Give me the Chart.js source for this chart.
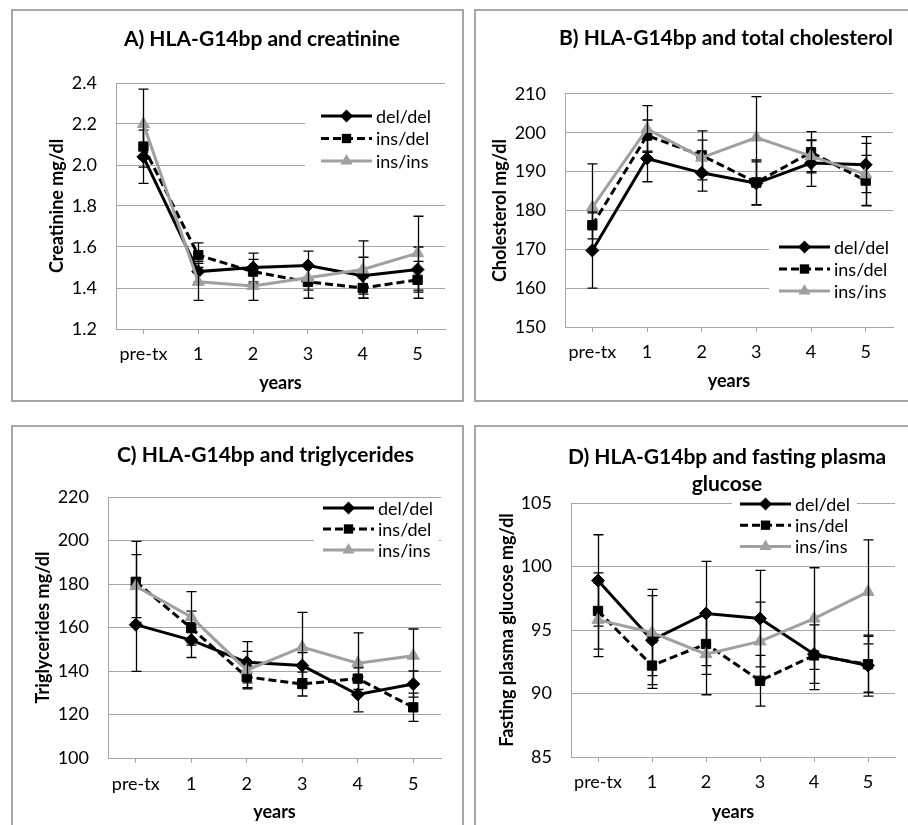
<!DOCTYPE html>
<html>
<head>
<meta charset="utf-8">
<title>HLA-G14bp panels</title>
<script src="https://cdn.jsdelivr.net/npm/chart.js@4.4.1/dist/chart.umd.min.js"></script>
<style>
  html, body { margin: 0; padding: 0; background: #fff; }
  body { width: 908px; height: 825px; position: relative; overflow: hidden; }
  .panel { position: absolute; box-sizing: border-box; border: 2px solid #a6a6a6; background: #fff; overflow: hidden; }
  .panel canvas { position: absolute; left: 0; top: 0; }
</style>
</head>
<body>
<div class="panel" style="left:11px;top:9px;width:453px;height:393px"><canvas id="chartA" width="449" height="389" style="width:449px;height:389px"></canvas></div>
<div class="panel" style="left:474px;top:9px;width:440px;height:393px"><canvas id="chartB" width="432" height="389" style="width:432px;height:389px"></canvas></div>
<div class="panel" style="left:11px;top:425px;width:453px;height:410px"><canvas id="chartC" width="449" height="398" style="width:449px;height:398px"></canvas></div>
<div class="panel" style="left:474px;top:425px;width:440px;height:410px"><canvas id="chartD" width="432" height="398" style="width:432px;height:398px"></canvas></div>
<script>
// categories and groups
const years = ['pre-tx', '1', '2', '3', '4', '5'];
const groups = ['del/del', 'ins/del', 'ins/ins'];

// A) creatinine (mg/dl) and error bar half-widths
const creatinineDelDel = [2.04, 1.48, 1.50, 1.51, 1.46, 1.49];
const creatinineInsDel = [2.09, 1.56, 1.48, 1.43, 1.40, 1.44];
const creatinineInsIns = [2.20, 1.43, 1.41, 1.45, 1.49, 1.57];
const creatinineErrDelDel = [0.13, 0.05, 0.07, 0.07, 0.09, 0.11];
const creatinineErrInsDel = [0.10, 0.06, 0.06, 0.08, 0.05, 0.09];
const creatinineErrInsIns = [0.17, 0.09, 0.07, 0.06, 0.14, 0.18];
const creatinineTicks = [1.2, 1.4, 1.6, 1.8, 2.0, 2.2, 2.4];

// B) total cholesterol (mg/dl)
const cholesterolDelDel = [169.7, 193.4, 189.7, 187.0, 192.2, 191.8];
const cholesterolInsDel = [176.2, 199.3, 194.2, 187.2, 195.0, 187.7];
const cholesterolInsIns = [180.8, 201.0, 193.6, 198.8, 194.0, 189.3];
const cholesterolErrDelDel = [9.7, 6.0, 4.7, 5.5, 6.0, 7.2];
const cholesterolErrInsDel = [3.5, 4.0, 6.3, 5.8, 5.3, 6.5];
const cholesterolErrInsIns = [11.2, 6.0, 4.5, 10.5, 4.0, 8.0];
const cholesterolTicks = [150, 160, 170, 180, 190, 200, 210];

// C) triglycerides (mg/dl)
const triglyceridesDelDel = [161.3, 154.2, 144.0, 142.5, 129.2, 134.0];
const triglyceridesInsDel = [181.0, 159.7, 137.3, 134.0, 136.5, 123.3];
const triglyceridesInsIns = [179.0, 164.8, 140.4, 151.0, 143.6, 147.0];
const triglyceridesErrDelDel = [21.5, 8.0, 9.5, 6.0, 8.0, 6.0];
const triglyceridesErrInsDel = [18.6, 7.8, 5.0, 5.5, 5.0, 6.5];
const triglyceridesErrInsIns = [14.5, 11.7, 8.6, 16.0, 13.9, 12.3];
const triglyceridesTicks = [100, 120, 140, 160, 180, 200, 220];

// D) fasting plasma glucose (mg/dl)
const glucoseDelDel = [98.9, 94.2, 96.3, 95.9, 93.1, 92.2];
const glucoseInsDel = [96.5, 92.2, 93.9, 91.0, 93.0, 92.3];
const glucoseInsIns = [95.8, 94.8, 93.1, 94.1, 95.9, 98.0];
const glucoseErrDelDel = [3.6, 3.5, 4.1, 3.8, 2.3, 2.4];
const glucoseErrInsDel = [3.0, 1.8, 2.4, 2.0, 2.7, 2.2];
const glucoseErrInsIns = [2.9, 3.4, 3.2, 3.1, 4.0, 4.1];
const glucoseTicks = [85, 90, 95, 100, 105];

const GRID = '#a6a6a6';
const GREY = '#a0a0a0';
const FONT = 'Lato';
const TXT = 18;     // tick, legend and axis title size
const TITLE = 21;   // panel title size

Chart.defaults.font.family = FONT;
Chart.defaults.color = '#000';

// whiskers for every point, drawn with its own series
const errorBars = {
  id: 'errorBars',
  afterDatasetDraw(chart, args) {
    const ds = chart.data.datasets[args.index];
    if (!ds.errors) return;
    const y = chart.scales.y;
    const ctx = chart.ctx;
    ctx.save();
    ctx.strokeStyle = '#000';
    ctx.lineWidth = 1.3;
    ctx.setLineDash([]);
    args.meta.data.forEach((pt, i) => {
      const v = ds.data[i], e = ds.errors[i];
      const top = y.getPixelForValue(v + e), bot = y.getPixelForValue(v - e);
      const x = Math.round(pt.x) + 0.5;
      ctx.beginPath();
      ctx.moveTo(x, top); ctx.lineTo(x, bot);
      ctx.moveTo(x - 5, top); ctx.lineTo(x + 5, top);
      ctx.moveTo(x - 5, bot); ctx.lineTo(x + 5, bot);
      ctx.stroke();
    });
    ctx.restore();
  }
};

// the title in the original is not centred on the panel, move its box
const titleShift = {
  id: 'titleShift',
  afterLayout(chart, args, opts) {
    const tb = chart.titleBlock;
    if (!tb || opts.x == null) return;
    const half = (tb.right - tb.left) / 2;
    tb.left = opts.x - half;
    tb.right = opts.x + half;
  }
};

function marker(ctx, style, x, y, r) {
  ctx.beginPath();
  if (style === 'rectRot') {
    ctx.moveTo(x, y - r); ctx.lineTo(x + r, y); ctx.lineTo(x, y + r); ctx.lineTo(x - r, y);
  } else if (style === 'rect') {
    const s = r * Math.SQRT1_2;
    ctx.rect(x - s, y - s, 2 * s, 2 * s);
  } else {
    ctx.moveTo(x, y - r);
    ctx.lineTo(x + r * Math.sin(Math.PI * 2 / 3), y - r * Math.cos(Math.PI * 2 / 3));
    ctx.lineTo(x + r * Math.sin(Math.PI * 4 / 3), y - r * Math.cos(Math.PI * 4 / 3));
  }
  ctx.closePath();
  ctx.fill();
}

// Excel-like legend sitting inside the plot on a white box
const boxLegend = {
  id: 'boxLegend',
  afterDraw(chart, args, opts) {
    const a = chart.chartArea, ctx = chart.ctx;
    ctx.save();
    ctx.fillStyle = '#fff';
    ctx.fillRect(a.left + opts.box[0], a.top + opts.box[1], opts.box[2], opts.box[3]);
    chart.data.datasets.forEach((ds, i) => {
      const x = a.left + opts.x, y = a.top + opts.y + i * opts.rowH;
      ctx.strokeStyle = ds.borderColor;
      ctx.lineWidth = ds.borderWidth;
      ctx.setLineDash(ds.borderDash || []);
      ctx.beginPath(); ctx.moveTo(x, y); ctx.lineTo(x + 51, y); ctx.stroke();
      ctx.setLineDash([]);
      ctx.fillStyle = ds.pointBackgroundColor;
      marker(ctx, ds.pointStyle, x + 25.5, y, ds.pointRadius);
      ctx.fillStyle = '#000';
      ctx.font = TXT + 'px ' + FONT;
      ctx.textBaseline = 'middle';
      ctx.textAlign = 'left';
      ctx.fillText(ds.label, x + 55, y + 1);
    });
    ctx.restore();
  }
};

function buildPanel(canvasId, p) {
  const canvas = document.getElementById(canvasId);
  const W = canvas.width, H = canvas.height;
  const titleLh = TITLE * p.titleLine;
  const nLines = Array.isArray(p.title) ? p.title.length : 1;
  const padR = W - p.R;
  const xHeight = H - p.B;
  const lh = TXT * 1.2;
  const styles = [
    { color: '#000', style: 'rectRot', r: 6.5, dash: [] },
    { color: '#000', style: 'rect', r: 6.6, dash: [8, 4] },
    { color: GREY, style: 'triangle', r: 7, dash: [] }
  ];
  const datasets = groups.map((g, i) => ({
    label: g,
    data: p.values[i],
    errors: p.errors[i],
    borderColor: styles[i].color,
    backgroundColor: styles[i].color,
    pointBackgroundColor: styles[i].color,
    pointBorderColor: styles[i].color,
    pointBorderWidth: 1,
    pointStyle: styles[i].style,
    pointRadius: styles[i].r,
    borderWidth: 3,
    borderDash: styles[i].dash,
    tension: 0,
    order: 3 - i
  }));
  return new Chart(canvas, {
    type: 'line',
    data: { labels: years, datasets },
    plugins: [errorBars, boxLegend, titleShift],
    options: {
      responsive: false,
      animation: false,
      events: [],
      layout: { padding: { left: 0, right: padR, top: 0, bottom: 0 } },
      plugins: {
        legend: { display: false },
        tooltip: { enabled: false },
        title: {
          display: true,
          text: p.title,
          color: '#000',
          font: { size: TITLE, weight: 'bold', lineHeight: p.titleLine },
          padding: { top: p.titleY - titleLh / 2, bottom: p.T - (p.titleY - titleLh / 2) - nLines * titleLh }
        },
        titleShift: { x: p.titleX },
        boxLegend: p.legend
      },
      scales: {
        x: {
          offset: true,
          grid: { display: true, offset: false, drawOnChartArea: false, drawTicks: true, tickLength: 5, color: GRID },
          border: { display: true, color: GRID, width: 1 },
          ticks: { color: '#000', font: { size: TXT }, padding: p.xTickY - p.B - 5 - lh / 2, maxRotation: 0, autoSkip: false },
          title: { display: true, text: 'years', color: '#000', font: { size: TXT, weight: 'bold' }, padding: { top: 0, bottom: H - p.xTitleY - lh / 2 } },
          afterFit: s => { s.height = xHeight; }
        },
        y: {
          min: p.ticks[0],
          max: p.ticks[p.ticks.length - 1],
          afterBuildTicks: s => { s.ticks = p.ticks.map(v => ({ value: v })); },
          grid: { color: GRID, drawTicks: false, lineWidth: 1 },
          border: { display: true, color: GRID, width: 1 },
          ticks: { color: '#000', font: { size: TXT }, padding: p.L - p.yTickRight, callback: v => v.toFixed(p.decimals) },
          title: { display: true, text: p.yTitle, color: '#000', font: { size: TXT, weight: 'bold' }, padding: { top: p.yTitleX - lh / 2, bottom: 0 } },
          afterFit: s => { s.width = p.L; }
        }
      }
    }
  });
}

buildPanel('chartA', {
  title: 'A) HLA-G14bp and creatinine', titleLine: 1.2,
  yTitle: 'Creatinine mg/dl', decimals: 1, ticks: creatinineTicks,
  values: [creatinineDelDel, creatinineInsDel, creatinineInsIns],
  errors: [creatinineErrDelDel, creatinineErrInsDel, creatinineErrInsIns],
  L: 103, R: 432, T: 72, B: 318, titleX: 249, titleY: 28,
  yTitleX: 44, yTickRight: 84, xTickY: 343, xTitleY: 372,
  legend: { x: 205, y: 33, rowH: 22.5, box: [189, 20, 141, 70] }
});

buildPanel('chartB', {
  title: 'B) HLA-G14bp and total cholesterol', titleLine: 1.2,
  yTitle: 'Cholesterol mg/dl', decimals: 0, ticks: cholesterolTicks,
  values: [cholesterolDelDel, cholesterolInsDel, cholesterolInsIns],
  errors: [cholesterolErrDelDel, cholesterolErrInsDel, cholesterolErrInsIns],
  L: 89, R: 417, T: 83, B: 316, titleX: 250, titleY: 27,
  yTitleX: 24, yTickRight: 70, xTickY: 341, xTitleY: 370,
  legend: { x: 214, y: 153, rowH: 22, box: [204, 140, 124, 67] }
});

buildPanel('chartC', {
  title: 'C) HLA-G14bp and triglycerides', titleLine: 1.2,
  yTitle: 'Triglycerides mg/dl', decimals: 0, ticks: triglyceridesTicks,
  values: [triglyceridesDelDel, triglyceridesInsDel, triglyceridesInsIns],
  errors: [triglyceridesErrDelDel, triglyceridesErrInsDel, triglyceridesErrInsIns],
  L: 95, R: 428, T: 70, B: 331, titleX: 252.5, titleY: 28,
  yTitleX: 30, yTickRight: 76, xTickY: 357, xTitleY: 385,
  legend: { x: 215, y: 11, rowH: 21, box: [206, 2, 125, 62] }
});

buildPanel('chartD', {
  title: ['D) HLA-G14bp and fasting plasma', 'glucose'], titleLine: 27 / 21,
  yTitle: 'Fasting plasma glucose mg/dl', decimals: 0, ticks: glucoseTicks,
  values: [glucoseDelDel, glucoseInsDel, glucoseInsIns],
  errors: [glucoseErrDelDel, glucoseErrInsDel, glucoseErrInsIns],
  L: 95, R: 419, T: 76, B: 330, titleX: 251, titleY: 30,
  yTitleX: 31, yTickRight: 76, xTickY: 355, xTitleY: 385,
  legend: { x: 169, y: 1, rowH: 21.2, box: [161, -11, 125, 66] }
});
</script>
</body>
</html>
